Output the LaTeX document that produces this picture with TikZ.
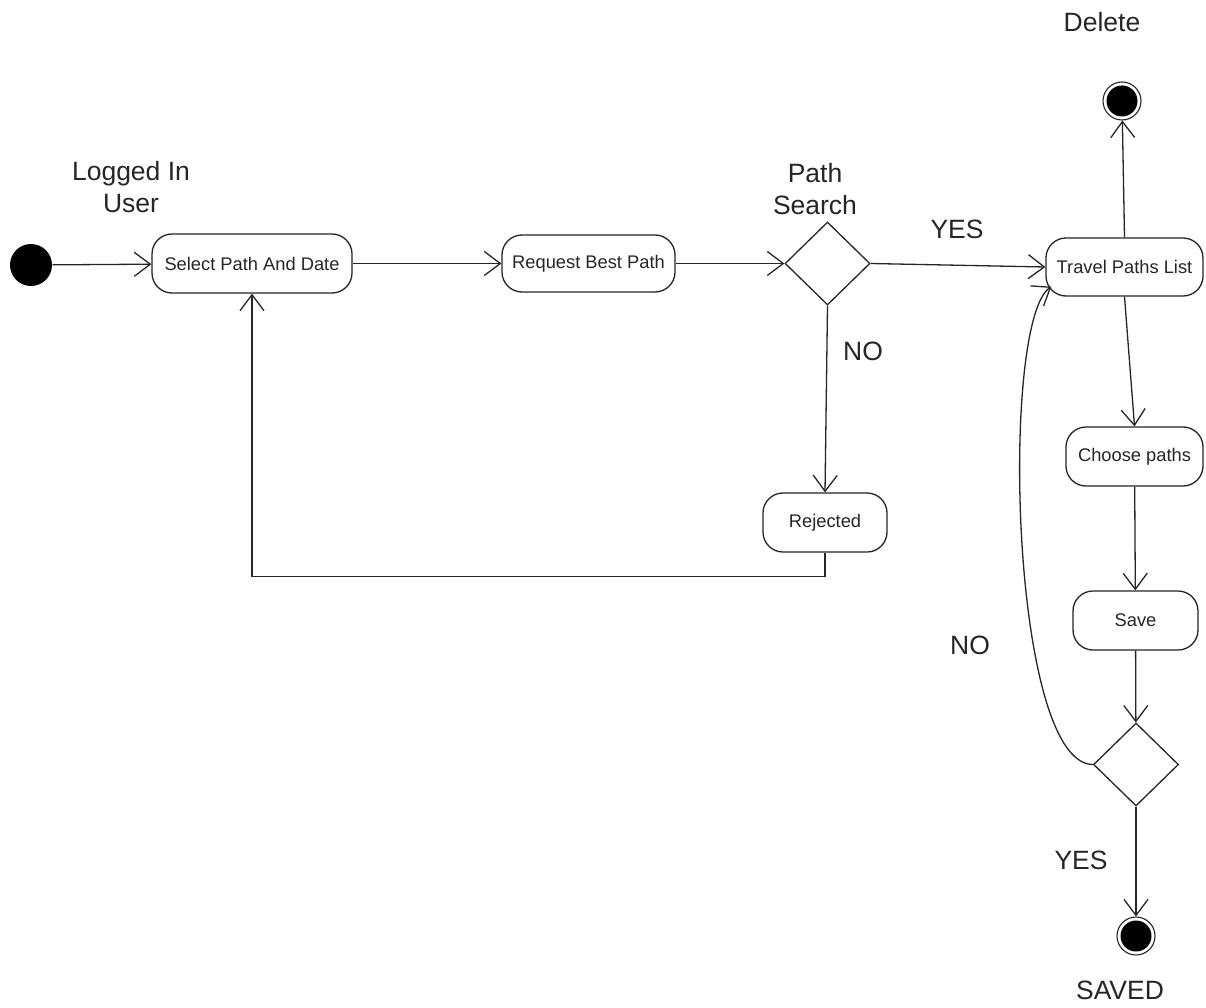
\documentclass[tikz,border=0pt]{standalone}
\usepackage{fontspec}
\setmainfont{Liberation Sans}
\usetikzlibrary{shapes.geometric,arrows.meta}
\begin{document}
\begin{tikzpicture}[x=1pt,y=-1pt,
  line width=1.3pt, draw=black!85,
  arr/.style={draw=black!85,-{Straight Barb[length=16pt,width=24pt,line width=1.3pt]}},
  act/.style={draw=black!85, rounded corners=20pt, inner sep=0pt, font=\fontsize{18.3}{21}\selectfont, text=black!85},
  dec/.style={draw=black!85, diamond, aspect=1, inner sep=0pt, minimum width=85pt, minimum height=83pt},
  lbl/.style={font=\fontsize{26.5}{31.5}\selectfont, align=center, inner sep=0pt, text=black!85},
  initnode/.style={circle, fill=black, inner sep=0pt, minimum size=42pt},
  endnode/.style={circle, draw=black!85, line width=1.1pt, inner sep=0pt, minimum size=38pt,
    path picture={\fill[black] (path picture bounding box.center) circle (15.5pt);}}
]
\useasboundingbox (0,0) rectangle (1206,1008);
\fill[white] (0,0) rectangle (1206,1008);

\node[initnode] (start) at (31,265) {};
\node[act, minimum width=200pt, minimum height=59pt] (sel) at (252,263.5) {Select Path And Date};
\node[act, minimum width=173pt, minimum height=57pt] (req) at (588.5,263.5) {Request Best Path};
\node[dec] (d1) at (827.5,263.5) {};
\node[act, minimum width=157pt, minimum height=58pt] (trav) at (1124.5,267) {Travel Paths List};
\node[endnode] (del) at (1122,101) {};
\node[act, minimum width=137pt, minimum height=59pt] (choose) at (1134.5,456.5) {Choose paths};
\node[act, minimum width=125pt, minimum height=59pt] (save) at (1135.5,620.5) {Save};
\node[dec] (d2) at (1136,764.5) {};
\node[endnode] (saved) at (1136,936) {};
\node[act, minimum width=124pt, minimum height=59pt] (rej) at (825,522.5) {Rejected};

\node[lbl] (l1) at (131,187) {Logged In\\User};
\node[lbl] (l2) at (815,189) {Path\\Search};
\node[lbl] (l3) at (957,229) {YES};
\node[lbl] (l4) at (863,351) {NO};
\node[lbl] (l5) at (1102,22) {Delete};
\node[lbl] (l6) at (970,645) {NO};
\node[lbl] (l7) at (1081,860) {YES};
\node[lbl] (l8) at (1120,990) {SAVED};

\draw[arr] (start) -- (sel);
\draw[arr] (sel) -- (req);
\draw[arr] (req) -- (d1);
\draw[arr] (d1.east) -- (trav.west);
\draw[arr] (d1.south) -- (rej.north);
\draw[arr] (rej.south) -- ++(0,24) -| (sel.south);
\draw[arr] (trav.north) -- (del);
\draw[arr] (trav.south) -- (choose.north);
\draw[arr] (choose) -- (save);
\draw[arr] (save) -- (d2);
\draw[arr] (d2) -- (saved);
\coordinate (tin) at ([xshift=6pt,yshift=10pt]trav.south west);
\draw[arr] (d2.west) .. controls (1010,764) and (1000,320) .. (tin);
\end{tikzpicture}
\end{document}
